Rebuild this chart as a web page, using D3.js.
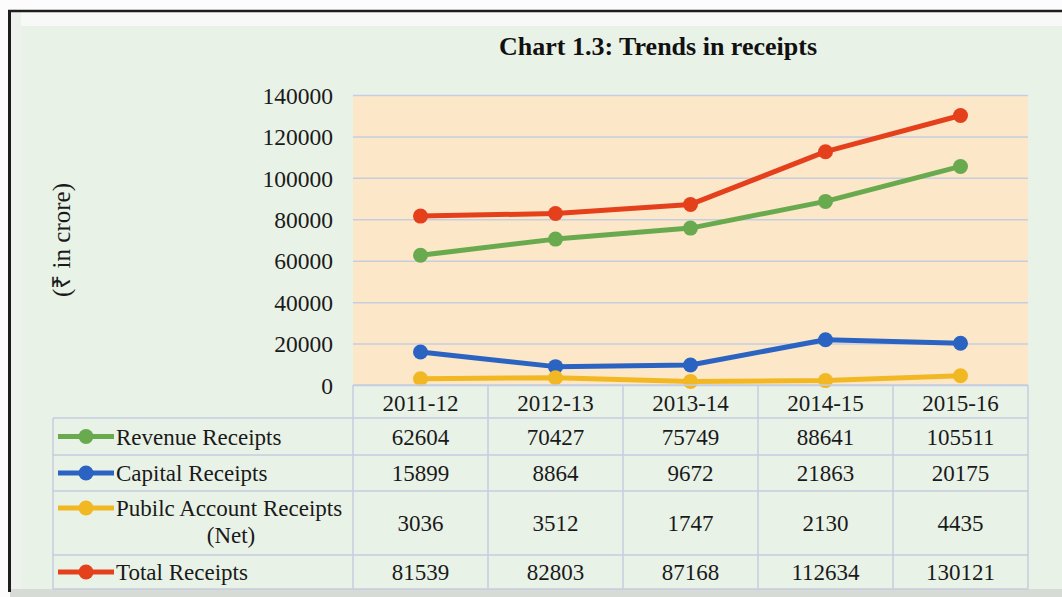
<!DOCTYPE html>
<html><head><meta charset="utf-8">
<script src="https://cdn.jsdelivr.net/npm/d3@7"></script>
<style>html,body{margin:0;padding:0;background:#fff;}svg{display:block;}</style>
</head><body>
<svg id="c" width="1062" height="597"></svg>
<script>
const categories = ["2011-12","2012-13","2013-14","2014-15","2015-16"];
const revenue = [62604,70427,75749,88641,105511];
const capital = [15899,8864,9672,21863,20175];
const publicAcc = [3036,3512,1747,2130,4435];
const total = [81539,82803,87168,112634,130121];
const seriesNames = [["Revenue Receipts"],["Capital Receipts"],["Pubilc Account Receipts","(Net)"],["Total Receipts"]];
const yTicks = [0,20000,40000,60000,80000,100000,120000,140000];
const colors = ["#6aaa4f","#2a63c2","#f2b823","#e5401c"];
const title = "Chart 1.3: Trends in receipts";
const yLabel = "(₹ in crore)";

const series = [revenue, capital, publicAcc, total];
const svg = d3.select("#c");
const font = "'Liberation Serif','Times New Roman',serif";
const fs = 23;

// frame
svg.append("rect").attr("x",0).attr("y",0).attr("width",1062).attr("height",597).attr("fill","#fbfcfb");
svg.append("rect").attr("x",9.5).attr("y",10.5).attr("width",1060).attr("height",581)
  .attr("fill","#e9f2e7");
svg.append("rect").attr("x",12).attr("y",12).attr("width",1056).attr("height",14).attr("fill","#f7f9f6");
svg.append("rect").attr("x",12).attr("y",12).attr("width",9).attr("height",578).attr("fill","#eef2ec");
svg.append("rect").attr("x",10).attr("y",589).attr("width",1052).attr("height",8).attr("fill","#d7dbd6");
svg.append("line").attr("x1",8).attr("x2",1062).attr("y1",11).attr("y2",11).attr("stroke","#1d1d1d").attr("stroke-width",2.5);
svg.append("line").attr("x1",9.5).attr("x2",9.5).attr("y1",10).attr("y2",592).attr("stroke","#1d1d1d").attr("stroke-width",3);

const pLeft = 353, pRight = 1028, pTop = 95, pBottom = 385;
const x = d3.scaleBand().domain(categories).range([pLeft,pRight]);
const y = d3.scaleLinear().domain([0,140000]).range([pBottom,pTop]);

svg.append("rect").attr("x",pLeft).attr("y",pTop).attr("width",pRight-pLeft).attr("height",pBottom-pTop).attr("fill","#fce8c9");

// gridlines
const yAxis = d3.axisLeft(y).tickValues(yTicks).tickSize(-(pRight-pLeft)).tickPadding(20).tickFormat(d3.format("d"));
const ga = svg.append("g").attr("transform",`translate(${pLeft},0)`).call(yAxis);
ga.select(".domain").remove();
ga.selectAll(".tick line").attr("stroke","#c5cde0").attr("stroke-width",1.5);
ga.selectAll(".tick text").attr("font-family",font).attr("font-size",fs+0.5).attr("fill","#1a1a1a").attr("dy","0.35em");

// title
svg.append("text").attr("x",658).attr("y",55).attr("text-anchor","middle").attr("font-family",font)
  .attr("font-weight","bold").attr("font-size",26).attr("fill","#111").text(title);
// y label
svg.append("text").attr("transform","translate(70,240) rotate(-90)").attr("text-anchor","middle")
  .attr("font-family",font).attr("font-size",25).attr("fill","#1a1a1a").text(yLabel);

// lines
const line = d3.line().x((d,i)=>x(categories[i])+x.bandwidth()/2).y(d=>y(d));
series.forEach((s,k)=>{
  svg.append("path").datum(s).attr("d",line).attr("fill","none").attr("stroke",colors[k]).attr("stroke-width",5).attr("stroke-linejoin","round");
  svg.selectAll(null).data(s).enter().append("circle")
    .attr("cx",(d,i)=>x(categories[i])+x.bandwidth()/2).attr("cy",d=>y(d)).attr("r",7.5).attr("fill",colors[k]);
});

// table
const rowEdges = [385,418,455,491,555,589];
const tableLeft = 53;
const lineColor = "#c6cce0";
const tg = svg.append("g");
rowEdges.forEach((ry,i)=>{
  tg.append("line").attr("x1", i===0 ? pLeft : tableLeft).attr("x2",pRight).attr("y1",ry).attr("y2",ry)
    .attr("stroke",lineColor).attr("stroke-width",1.5);
});
const colEdges = categories.map(c=>x(c)).concat([pRight]);
colEdges.forEach(cx=>{
  tg.append("line").attr("x1",cx).attr("x2",cx).attr("y1",pBottom).attr("y2",rowEdges[5]).attr("stroke",lineColor).attr("stroke-width",1.5);
});
tg.append("line").attr("x1",tableLeft).attr("x2",tableLeft).attr("y1",rowEdges[1]).attr("y2",rowEdges[5]).attr("stroke",lineColor).attr("stroke-width",1.5);

categories.forEach(c=>{
  tg.append("text").attr("x",x(c)+x.bandwidth()/2).attr("y",411).attr("text-anchor","middle")
    .attr("font-family",font).attr("font-size",fs).attr("fill","#1a1a1a").text(c);
});
series.forEach((s,k)=>{
  const r0 = rowEdges[k+1], r1 = rowEdges[k+2], mid=(r0+r1)/2;
  s.forEach((v,i)=>{
    tg.append("text").attr("x",x(categories[i])+x.bandwidth()/2).attr("y",mid+8).attr("text-anchor","middle")
      .attr("font-family",font).attr("font-size",fs).attr("fill","#1a1a1a").text(v);
  });
  const names = seriesNames[k];
  const ly = names.length>1 ? r0+17 : mid;
  tg.append("line").attr("x1",58).attr("x2",114).attr("y1",ly).attr("y2",ly).attr("stroke",colors[k]).attr("stroke-width",5);
  tg.append("circle").attr("cx",86).attr("cy",ly).attr("r",7.5).attr("fill",colors[k]);
  if(names.length===1){
    tg.append("text").attr("x",116).attr("y",mid+8).attr("font-family",font).attr("font-size",fs).attr("fill","#1a1a1a").text(names[0]);
  } else {
    tg.append("text").attr("x",116).attr("y",r0+25).attr("font-family",font).attr("font-size",fs).attr("fill","#1a1a1a").text(names[0]);
    tg.append("text").attr("x",231).attr("y",r0+52).attr("text-anchor","middle").attr("font-family",font).attr("font-size",fs).attr("fill","#1a1a1a").text(names[1]);
  }
});
</script>
</body></html>
